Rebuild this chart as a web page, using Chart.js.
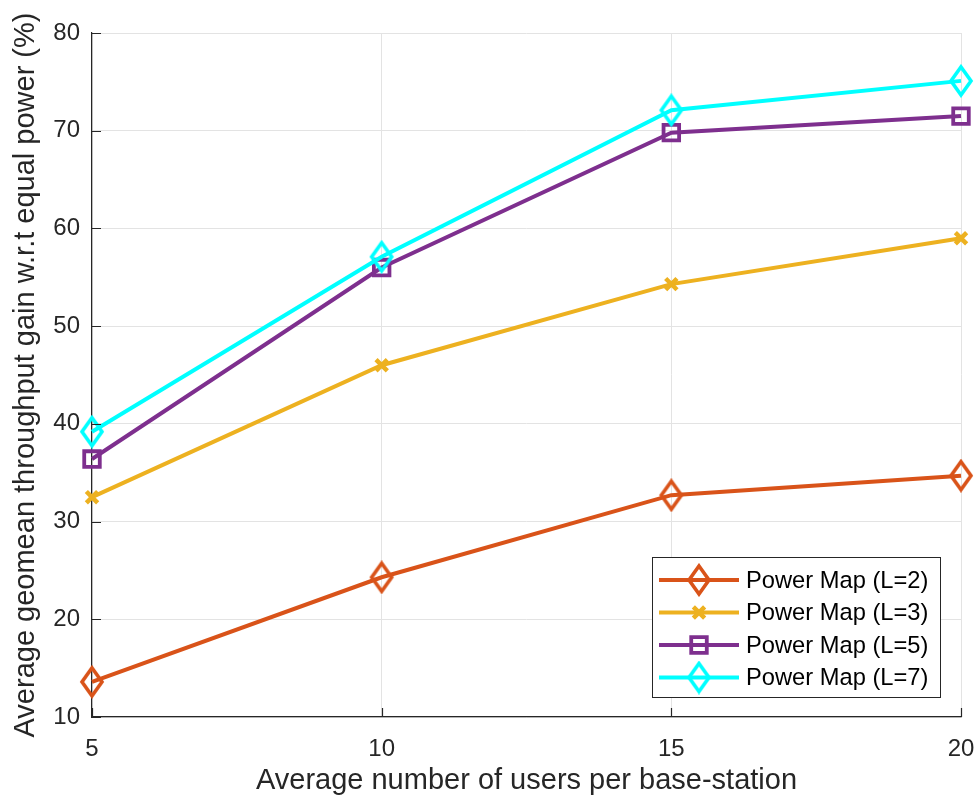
<!DOCTYPE html>
<html>
<head>
<meta charset="utf-8">
<script src="https://cdn.jsdelivr.net/npm/chart.js@4.4.1/dist/chart.umd.min.js"></script>
<style>
  html, body { margin: 0; padding: 0; background: #ffffff; }
  #wrap { width: 977px; height: 798px; position: relative; }
</style>
</head>
<body>
<div id="wrap"><canvas id="chart" width="977" height="798"></canvas></div>
<script>
// Users per base-station (x) and throughput gain (%) for each window size L
const users = [5, 10, 15, 20];
const gainL2 = [13.6, 24.3, 32.7, 34.7];
const gainL3 = [32.5, 46.0, 54.3, 59.0];
const gainL5 = [36.4, 56.0, 69.8, 71.5];
const gainL7 = [39.2, 57.1, 72.1, 75.1];
const seriesLabels = ['Power Map (L=2)', 'Power Map (L=3)', 'Power Map (L=5)', 'Power Map (L=7)'];
const xTicks = [5, 10, 15, 20];
const yTicks = [10, 20, 30, 40, 50, 60, 70, 80];

const COLORS = ['#D95319', '#EDB120', '#7E2F8E', '#00FFFF'];
const TEXT = '#262626';
const FONT = "'Liberation Sans', Arial, Helvetica, sans-serif";

// Hollow, slightly tall diamond marker
function diamondMarker(color) {
  const w = 26, h = 34, c = document.createElement('canvas');
  c.width = w; c.height = h;
  const g = c.getContext('2d');
  g.strokeStyle = color; g.lineWidth = 3.6; g.lineJoin = 'miter';
  g.beginPath();
  g.moveTo(w / 2, 3); g.lineTo(w - 3, h / 2); g.lineTo(w / 2, h - 3); g.lineTo(3, h / 2);
  g.closePath(); g.stroke();
  return c;
}

const markerStyles = [
  { pointStyle: diamondMarker(COLORS[0]), radius: 12, border: 3.6 },
  { pointStyle: 'crossRot', radius: 8, border: 4.5 },
  { pointStyle: 'rect', radius: 11, border: 3.8 },
  { pointStyle: diamondMarker(COLORS[3]), radius: 12, border: 3.6 }
];

const values = [gainL2, gainL3, gainL5, gainL7];
const datasets = values.map((vals, i) => ({
  label: seriesLabels[i],
  data: users.map((u, k) => ({ x: u, y: vals[k] })),
  borderColor: COLORS[i],
  backgroundColor: COLORS[i],
  borderWidth: 4,
  pointStyle: markerStyles[i].pointStyle,
  pointRadius: markerStyles[i].radius,
  pointBorderWidth: markerStyles[i].border,
  pointBorderColor: COLORS[i],
  pointBackgroundColor: 'rgba(0,0,0,0)',
  tension: 0,
  clip: false,
  order: values.length - 1 - i
}));

// Inward tick marks on the left and bottom axes
const innerTicks = {
  id: 'innerTicks',
  afterDatasetsDraw(chart) {
    const { ctx, chartArea: a, scales: { x, y } } = chart;
    ctx.save();
    ctx.strokeStyle = TEXT;
    ctx.lineWidth = 1.2;
    ctx.beginPath();
    yTicks.forEach(v => { const py = Math.round(y.getPixelForValue(v)) + 0.5; ctx.moveTo(a.left, py); ctx.lineTo(a.left + 9, py); });
    xTicks.forEach(v => { const px = Math.round(x.getPixelForValue(v)) + 0.5; ctx.moveTo(px, a.bottom); ctx.lineTo(px, a.bottom - 9); });
    ctx.stroke();
    ctx.restore();
  }
};

// Boxed legend in the lower-right corner of the plot
const cornerLegend = {
  id: 'cornerLegend',
  afterDraw(chart) {
    const { ctx } = chart;
    const bx = 652.5, by = 557.5, bw = 288, bh = 140;
    ctx.save();
    ctx.fillStyle = '#ffffff';
    ctx.fillRect(bx, by, bw, bh);
    ctx.strokeStyle = TEXT;
    ctx.lineWidth = 1;
    ctx.strokeRect(bx, by, bw, bh);
    ctx.font = '23.7px ' + FONT;
    ctx.textBaseline = 'middle';
    chart.data.datasets.forEach((ds, i) => {
      const cy = 580 + i * 32.5;
      ctx.strokeStyle = ds.borderColor;
      ctx.lineWidth = 4;
      ctx.beginPath(); ctx.moveTo(659, cy); ctx.lineTo(739, cy); ctx.stroke();
      const st = ds.pointStyle;
      if (typeof st === 'string') {
        ctx.lineWidth = ds.pointBorderWidth;
        ctx.fillStyle = 'rgba(0,0,0,0)';
        Chart.helpers.drawPoint(ctx, { pointStyle: st, radius: ds.pointRadius, borderWidth: ds.pointBorderWidth }, 699, cy);
      } else {
        ctx.drawImage(st, 699 - st.width / 2, cy - st.height / 2);
      }
      ctx.fillStyle = '#000000';
      ctx.fillText(ds.label, 746, cy + 1);
    });
    ctx.restore();
  }
};

new Chart(document.getElementById('chart'), {
  type: 'line',
  data: { datasets },
  options: {
    responsive: false,
    animation: false,
    events: [],
    layout: { padding: { top: 33, right: 0, left: 0, bottom: 0 } },
    plugins: { legend: { display: false }, tooltip: { enabled: false } },
    scales: {
      x: {
        type: 'linear',
        min: 5, max: 20,
        afterFit(s) { s.height = 81; s.paddingRight = 16; },
        afterBuildTicks(s) { s.ticks = xTicks.map(v => ({ value: v })); },
        grid: { color: '#e3e3e3', lineWidth: 1, drawTicks: false },
        border: { display: true, color: TEXT, width: 1.2 },
        ticks: { color: TEXT, padding: 18, font: { family: FONT, size: 24 } },
        title: {
          display: true, text: 'Average number of users per base-station',
          color: TEXT, font: { family: FONT, size: 29 }, padding: { top: 0, bottom: 0 }
        }
      },
      y: {
        type: 'linear',
        min: 10, max: 80,
        afterFit(s) { s.width = 92; },
        afterBuildTicks(s) { s.ticks = yTicks.map(v => ({ value: v })); },
        grid: { color: '#e3e3e3', lineWidth: 1, drawTicks: false },
        border: { display: true, color: TEXT, width: 1.2 },
        ticks: { color: TEXT, padding: 12, font: { family: FONT, size: 24 } },
        title: {
          display: true, text: 'Average geomean throughput gain w.r.t equal power (%)',
          color: TEXT, font: { family: FONT, size: 29 }, padding: { top: 9, bottom: 0 }
        }
      }
    }
  },
  plugins: [innerTicks, cornerLegend]
});
</script>
</body>
</html>
